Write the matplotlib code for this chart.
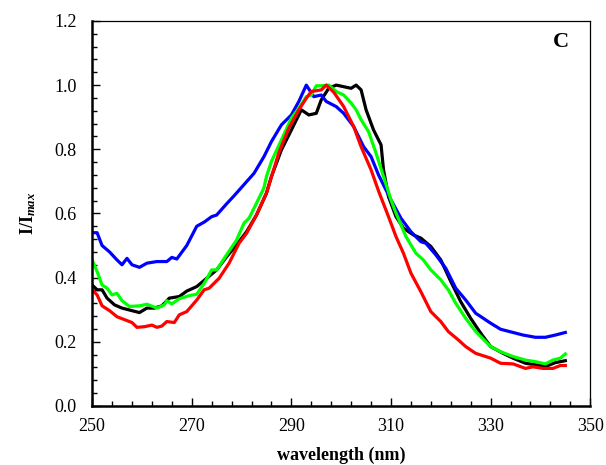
import matplotlib.pyplot as plt
import numpy as np
from matplotlib.ticker import FormatStrFormatter, MultipleLocator

plt.rcParams['font.family'] = ['Liberation Serif', 'DejaVu Serif']
plt.rcParams['mathtext.fontset'] = 'custom'
plt.rcParams['mathtext.rm'] = 'Liberation Serif'
plt.rcParams['mathtext.it'] = 'Liberation Serif:italic'
plt.rcParams['mathtext.bf'] = 'Liberation Serif:bold'
plt.rcParams['mathtext.bfit'] = 'Liberation Serif:bold:italic'

# spectra (wavelength in nm, normalised intensity)
wl_black = [250, 251, 252, 253, 254.5, 256, 257.5, 259.5, 261, 262.5, 264, 265.5, 267.5, 269,
            271, 273, 275, 277, 279, 281, 283, 285, 286, 288, 290, 292, 293.5, 295, 296, 297.5,
            299, 300.5, 302, 303, 304, 305, 306.5, 308, 308.5, 309.5, 311, 312.5, 314.5, 316,
            318, 320, 322, 324, 326, 328, 330, 332.5, 334.5, 337, 340, 341.5, 343, 345]
i_black = [.377, .362, .362, .336, .315, .305, .299, .291, .305, .305, .312, .336, .341, .358,
           .372, .398, .424, .465, .502, .543, .595, .663, .715, .798, .86, .923, .907, .912, .954, .99,
           1.0, .995, .99, 1.0, .985, .923, .86, .814, .736, .652, .59, .554, .533, .523,
           .497, .455, .388, .325, .273, .227, .185, .164, .149, .133, .126, .126, .135, .141]

wl_blue = [250, 251, 252, 253.5, 255, 256, 257, 258, 259.5, 261, 263, 265, 266, 267, 269, 271,
           272.5, 274, 275, 277, 278.5, 280.5, 282.5, 284.5, 286, 288, 290, 291.5, 293, 294.5,
           296, 297, 299, 300.5, 302.5, 304.5, 306, 307.5, 310, 312, 314, 316, 317, 319, 321,
           323, 325, 327, 330, 332, 334.5, 336.5, 339, 341, 343, 345]
i_blue = [.54, .54, .50, .48, .455, .44, .46, .44, .432, .445, .45, .45, .463, .458, .50, .56,
          .573, .59, .595, .63, .655, .69, .725, .777, .824, .876, .907, .949, 1.0, .964,
          .969, .949, .933, .912, .871, .808, .777, .72, .642, .585, .543, .512, .507, .471, .429,
          .367, .33, .289, .258, .239, .229, .221, .214, .214, .221, .229]

wl_green = [250, 251, 252, 253, 254, 255, 256, 257.5, 259.5, 261, 263, 264.5, 265, 266, 267.5,
            269.5, 271, 272.5, 274, 275, 277, 279, 280.5, 281.5, 283, 284.5, 285, 286, 288, 290,
            291.5, 293, 294, 295, 296, 297.5, 299, 300.5, 302, 303, 304, 305.5, 307, 308.5, 310,
            311, 313, 315, 316.5, 318, 320, 321.5, 323, 325, 327, 330, 332, 334.5, 337, 339,
            341, 342.5, 344, 345]
i_green = [.455, .419, .377, .367, .346, .351, .328, .31, .312, .317, .305, .315, .328, .318, .334,
           .344, .348, .382, .424, .424, .471, .517, .57, .585, .632, .68, .715, .762, .829, .897,
           .928, .964, .969, .998, .998, 1.0, .98, .969, .944, .923, .892, .855, .788, .715, .642,
           .601, .528, .476, .455, .424, .393, .362, .32, .273, .232, .185, .169, .154, .143, .138,
           .131, .143, .149, .162]

wl_red = [250, 251, 252, 253.5, 255, 257, 258, 259, 260.5, 262, 263, 264, 265, 266.5, 267.5, 269,
          271, 272.5, 273.5, 275.5, 277.5, 279.5, 281, 283, 285, 287.5, 289.5, 291.5, 293, 294,
          296, 297, 298.5, 300.5, 302.5, 304, 306, 307.5, 309.5, 311, 312.5, 314, 316, 317, 318,
          320, 321.5, 323.5, 325, 327, 330, 332, 334.5, 337, 338.5, 340.5, 342.5, 344, 345]
i_red = [.362, .346, .312, .297, .278, .266, .26, .245, .247, .252, .245, .249, .263, .26, .284, .294,
         .33, .362, .367, .398, .445, .507, .538, .595, .663, .79, .866, .923, .959, .98,
         .985, 1.0, .978, .933, .871, .808, .736, .67, .59, .528, .476, .414, .356, .325, .294,
         .263, .232, .206, .185, .164, .149, .133, .131, .117, .122, .117, .117, .126, .126]

fig = plt.figure(figsize=(6.06, 4.65), dpi=100)
ax = fig.add_axes([0.152, 0.127, 0.822, 0.828])

lw = 2.3
ax.plot(wl_black, i_black, color='black', lw=lw)
ax.plot(wl_blue, i_blue, color='#0000ff', lw=lw)
ax.plot(wl_green, i_green, color='#00ff00', lw=lw)
ax.plot(wl_red, i_red, color='#ff0000', lw=lw)

ax.set_xlim(250, 350)
ax.set_ylim(0, 1.2)
ax.set_xticks(np.arange(250, 351, 20))
ax.set_xticks(np.arange(250, 351, 4), minor=True)
ax.yaxis.set_major_locator(MultipleLocator(0.2))
ax.yaxis.set_minor_locator(MultipleLocator(0.04))
ax.yaxis.set_major_formatter(FormatStrFormatter('%.1f'))
ax.tick_params(which='both', direction='in', top=False, right=False, labelsize=13, width=1)
ax.tick_params(which='major', length=6)
ax.tick_params(which='minor', length=3.5)
ax.tick_params(axis='x', which='major', pad=9)
ax.tick_params(axis='y', which='major', pad=11)
for s in ['left', 'bottom']:
    ax.spines[s].set_linewidth(1.8)
for s in ['top', 'right']:
    ax.spines[s].set_linewidth(0.9)

ax.set_xlabel('wavelength (nm)', fontsize=13, fontweight='bold', labelpad=8)
ax.set_ylabel(r'$\mathbf{I/I}_{\mathbfit{max}}$', fontsize=13, labelpad=12)
ax.text(0.942, 0.944, 'C', transform=ax.transAxes, fontsize=16, fontweight='bold',
        ha='center', va='center')

fig.savefig('out.png', dpi=100)
